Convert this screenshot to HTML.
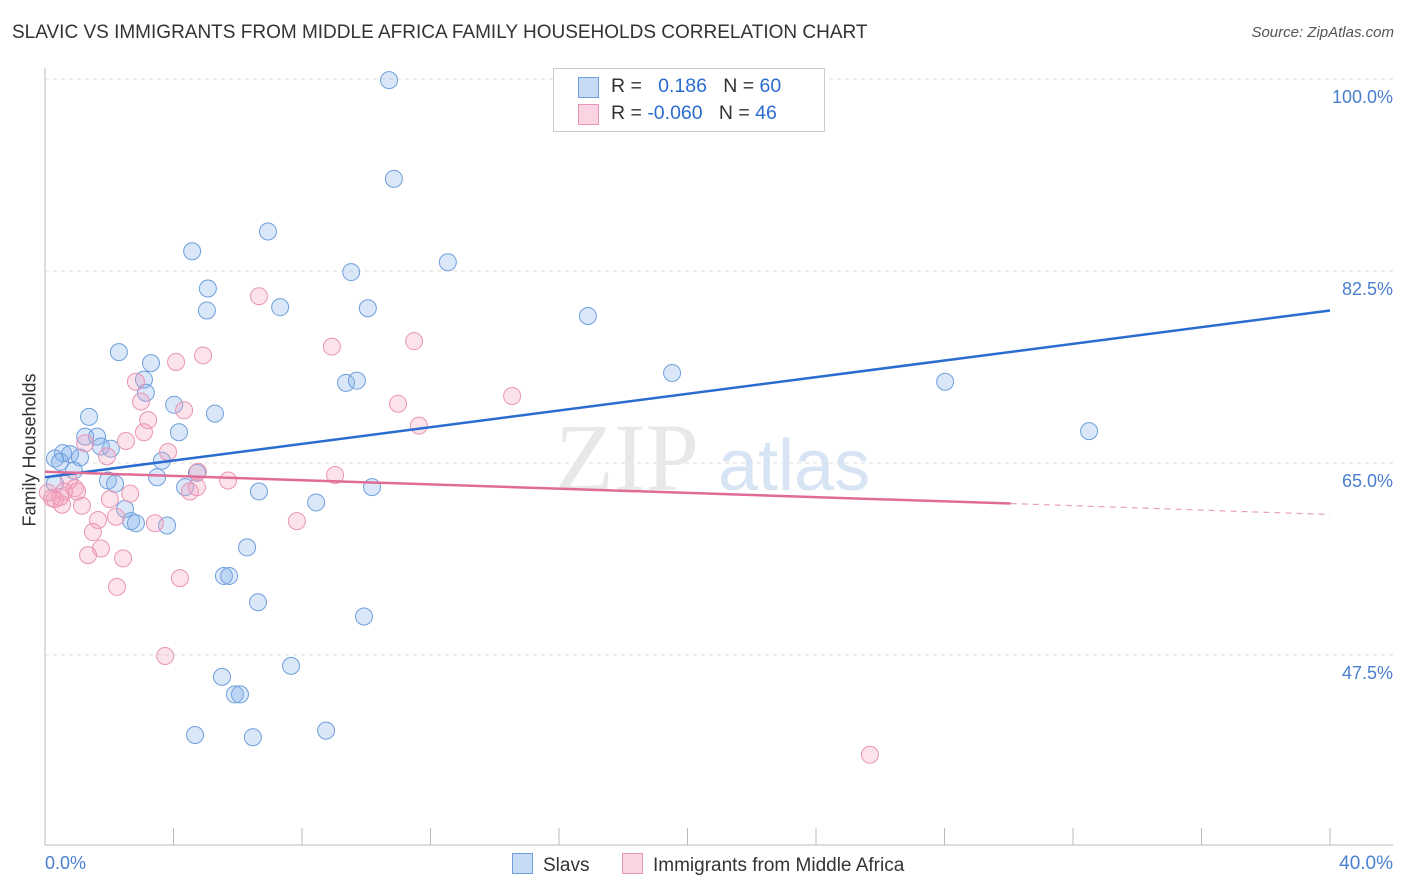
<!DOCTYPE html>
<html><head><meta charset="utf-8">
<style>
body{margin:0;background:#fff;font-family:"Liberation Sans",sans-serif;}
#wrap{position:relative;width:1406px;height:892px;overflow:hidden;}
.t{position:absolute;white-space:nowrap;}
</style></head>
<body>
<div id="wrap">
<div class="t" style="left:12px;top:22px;font-size:19px;color:#333;">SLAVIC VS IMMIGRANTS FROM MIDDLE AFRICA FAMILY HOUSEHOLDS CORRELATION CHART</div>
<div class="t" style="right:12px;top:24px;font-size:15px;color:#555;font-style:italic;">Source: ZipAtlas.com</div>
<div class="t" style="left:-40px;top:446px;font-size:18px;color:#333;transform:rotate(-90deg);width:140px;text-align:center;">Family Households</div>
<svg id="svg" width="1406" height="892" style="position:absolute;left:0;top:0"></svg>
</div>
<script>
const slavX=[10.71,10.86,6.94,4.58,9.53,12.54,5.07,5.04,7.32,10.05,16.90,2.30,3.30,3.08,9.37,9.71,3.14,19.52,28.02,4.02,5.29,1.37,4.17,32.50,1.25,1.62,1.74,2.05,0.56,0.78,0.31,1.09,3.64,0.90,3.49,4.73,1.96,2.18,4.36,6.66,10.18,8.44,2.49,2.68,2.83,3.80,6.29,5.57,5.73,6.63,9.93,7.66,5.51,5.91,6.07,4.67,6.47,8.75,0.31,0.47];
const slavY=[99.9,90.9,86.1,84.3,82.4,83.3,80.9,78.9,79.2,79.1,78.4,75.1,74.1,72.6,72.3,72.5,71.4,73.2,72.4,70.3,69.5,69.2,67.8,67.9,67.4,67.4,66.5,66.3,65.9,65.8,65.4,65.5,65.2,64.3,63.7,64.1,63.4,63.1,62.8,62.4,62.8,61.4,60.8,59.7,59.5,59.3,57.3,54.7,54.7,52.3,51.0,46.5,45.5,43.9,43.9,40.2,40.0,40.6,63.1,65.1];
const afrX=[6.66,4.08,4.92,8.93,11.49,2.83,2.99,4.33,10.99,14.54,3.21,11.64,3.08,2.52,1.25,1.93,3.83,4.76,5.70,9.03,0.75,0.93,0.59,1.00,0.22,0.31,0.53,1.15,2.65,2.02,1.65,2.21,7.84,3.42,1.49,1.74,1.34,2.43,4.20,2.24,3.74,25.68,4.51,4.73,0.47,0.09];
const afrY=[80.2,74.2,74.8,75.6,76.1,72.4,70.6,69.8,70.4,71.1,68.9,68.4,67.8,67.0,66.8,65.6,66.0,64.2,63.4,63.9,63.4,62.7,62.4,62.4,61.8,61.7,61.2,61.1,62.2,61.7,59.8,60.1,59.7,59.5,58.7,57.2,56.6,56.3,54.5,53.7,47.4,38.4,62.4,62.8,61.9,62.3];
const slavTrend=[63.7,78.9];
const afrTrend=[64.2,61.3,60.3];
const afrTrendX=[0,30.06,40];
const yTicks=[100,82.5,65,47.5];
const yTickLabels=["100.0%","82.5%","65.0%","47.5%"];

const X=v=>45+v*32.125, Y=v=>79+(100-v)*10.97;
const svg=document.getElementById('svg'), NS='http://www.w3.org/2000/svg';
function mk(t,a){const e=document.createElementNS(NS,t);for(const k in a)e.setAttribute(k,a[k]);svg.appendChild(e);return e;}
yTicks.forEach((v,i)=>{
 const g=mk('line',{x1:45,x2:1393,y1:Y(v),y2:Y(v),stroke:'#ddd','stroke-dasharray':'4,4'});
 
 
 const t=mk('text',{x:1393,y:Y(v)+24,'text-anchor':'end','font-size':18,fill:'#4a7fd0','font-family':'Liberation Sans'});
 t.textContent=yTickLabels[i];
 
 
});
let a=mk('line',{x1:45,x2:45,y1:68,y2:845,stroke:'#bbb'});


a=mk('line',{x1:45,x2:1393,y1:845,y2:845,stroke:'#bbb'});


for(let i=0;i<=10;i++){const tk=mk('line',{x1:X(i*4),x2:X(i*4),y1:828,y2:845,stroke:'#bbb'});
 
 }
let wm=mk('text',{x:555,y:490,'font-size':96,fill:'#e8e8e8','font-family':'Liberation Serif'});wm.textContent='ZIP';


wm=mk('text',{x:718,y:490,'font-size':72,fill:'#d6e4f4','font-family':'Liberation Sans'});wm.textContent='atlas';


function pts(xs,ys,fill,stroke,name){xs.forEach((x,i)=>{const c=mk('circle',{cx:X(x),cy:Y(ys[i]),r:8.5,fill:fill,stroke:stroke,'stroke-width':1});
 
 });}
pts(slavX,slavY,'rgba(130,175,235,0.3)','#6f9fdc','slavs-point');
pts(afrX,afrY,'rgba(245,160,190,0.3)','#e995b5','africa-point');
let l=mk('line',{x1:X(0),y1:Y(slavTrend[0]),x2:X(40),y2:Y(slavTrend[1]),stroke:'#2b6cd0','stroke-width':2.5});


l=mk('line',{x1:X(afrTrendX[0]),y1:Y(afrTrend[0]),x2:X(afrTrendX[1]),y2:Y(afrTrend[1]),stroke:'#e06b95','stroke-width':2.5});


l=mk('line',{x1:X(afrTrendX[1]),y1:Y(afrTrend[1]),x2:X(afrTrendX[2]),y2:Y(afrTrend[2]),stroke:'#e8a0b8','stroke-width':1.2,'stroke-dasharray':'6,5'});


</script>
<div class="t" style="left:553px;top:68px;width:270px;height:62px;border:1px solid #ccc;background:#fff;font-size:19.5px;">
 <div style="position:absolute;left:24px;top:8px;width:19px;height:19px;background:rgba(130,175,235,0.45);border:1px solid #6f9fdc;"></div>
 <div style="position:absolute;left:57px;top:6px;color:#333;">R = &nbsp;&nbsp;<span style="color:#2b6cd0">0.186</span>&nbsp;&nbsp;&nbsp;N = <span style="color:#2b6cd0">60</span></div>
 <div style="position:absolute;left:24px;top:35px;width:19px;height:19px;background:rgba(245,160,190,0.45);border:1px solid #e995b5;"></div>
 <div style="position:absolute;left:57px;top:33px;color:#333;">R = <span style="color:#2b6cd0">-0.060</span>&nbsp;&nbsp;&nbsp;N = <span style="color:#2b6cd0">46</span></div>
</div>
<div class="t" style="left:45px;top:853px;font-size:18px;color:#4a7fd0;">0.0%</div>
<div class="t" style="right:13px;top:853px;font-size:19px;color:#4a7fd0;">40.0%</div>
<div class="t" style="left:512px;top:853px;font-size:19px;color:#333;"><span style="display:inline-block;width:19px;height:19px;background:rgba(130,175,235,0.45);border:1px solid #6f9fdc;vertical-align:-3px;margin-right:10px;"></span>Slavs</div>
<div class="t" style="left:622px;top:853px;font-size:19px;color:#333;"><span style="display:inline-block;width:19px;height:19px;background:rgba(245,160,190,0.45);border:1px solid #e995b5;vertical-align:-3px;margin-right:10px;"></span>Immigrants from Middle Africa</div>
</body></html>
